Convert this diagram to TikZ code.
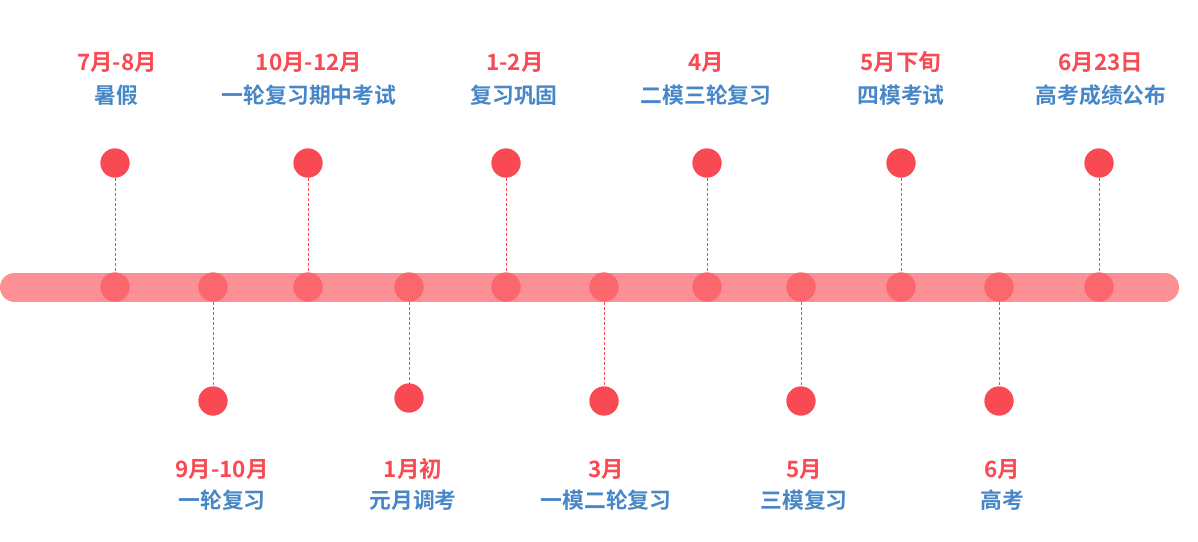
\documentclass[tikz,border=0pt]{standalone}
\usepackage{fontspec}
\newfontfamily\cjk{Noto Sans CJK SC Bold}
\definecolor{barc}{HTML}{FC9094}
\definecolor{bardot}{HTML}{FC666D}
\definecolor{dotc}{HTML}{F94A54}
\definecolor{redt}{HTML}{F94A54}
\definecolor{bluet}{HTML}{4787C7}
\begin{document}
\begin{tikzpicture}[x=1pt,y=-1pt,
  bdot/.style={circle,fill=bardot,minimum size=29pt,inner sep=0pt},
  edot/.style={circle,fill=dotc,minimum size=29pt,inner sep=0pt},
  conn/.style={dotc,dashed,line width=0.8pt,dash pattern=on 3pt off 2pt},
  redlab/.style={text=redt,font=\cjk\fontsize{22.5}{24}\selectfont,inner sep=0pt},
  bluelab/.style={text=bluet,font=\cjk\fontsize{21.8}{24}\selectfont,inner sep=0pt}]
\useasboundingbox (0,0) rectangle (1198,541);
\draw[barc,line width=29pt,line cap=round] (14.5,287) -- (1164.5,287);
% bar dots
\foreach \n/\x in {a/115,b/213,c/308,d/409,e/506,f/604,g/707,h/801,i/901,j/999,k/1099}
  \node[bdot] (m\n) at (\x,287) {};
% top dots
\foreach \n/\x in {a/115,c/308,e/506,g/707,i/901,k/1099}
  \node[edot] (t\n) at (\x,163) {};
% bottom dots
\node[edot] (tb) at (213,401) {};
\node[edot] (td) at (409,398) {};
\node[edot] (tf) at (604,401) {};
\node[edot] (th) at (801,401) {};
\node[edot] (tj) at (999,401) {};
% connectors
\foreach \n in {a,c,e,g,i,k}
  \draw[conn] (t\n.center) -- (m\n.center);
\foreach \n in {b,d,f,h,j}
  \draw[conn] (m\n.center) -- (t\n.center);
% redraw dots over connectors
\foreach \n/\x in {a/115,b/213,c/308,d/409,e/506,f/604,g/707,h/801,i/901,j/999,k/1099}
  \fill[bardot] (\x,287) circle (14.5);
\foreach \n in {a,c,e,g,i,k,b,d,f,h,j}
  \fill[dotc] (t\n) circle (14.5);
% top labels
\node[redlab] (ra) at (117,62) {7月-8月};
\node[bluelab] (la) at (116,95) {暑假};
\node[redlab] (rc) at (309,62) {10月-12月};
\node[bluelab] (lc) at (309,95) {一轮复习期中考试};
\node[redlab] (re) at (515,62) {1-2月};
\node[bluelab] (le) at (514,95) {复习巩固};
\node[redlab] (rg) at (706,62) {4月};
\node[bluelab] (lg) at (706,95) {二模三轮复习};
\node[redlab] (ri) at (901,62) {5月下旬};
\node[bluelab] (li) at (901,95) {四模考试};
\node[redlab] (rk) at (1101,62) {6月23日};
\node[bluelab] (lk) at (1101,95) {高考成绩公布};
% bottom labels
\node[redlab] (rb) at (222,469) {9月-10月};
\node[bluelab] (lb) at (222,500) {一轮复习};
\node[redlab] (rd) at (413,469) {1月初};
\node[bluelab] (ld) at (413,500) {元月调考};
\node[redlab] (rf) at (606,469) {3月};
\node[bluelab] (lf) at (606,500) {一模二轮复习};
\node[redlab] (rh) at (804,469) {5月};
\node[bluelab] (lh) at (804,500) {三模复习};
\node[redlab] (rj) at (1002,469) {6月};
\node[bluelab] (lj) at (1002,500) {高考};
\end{tikzpicture}
\end{document}
